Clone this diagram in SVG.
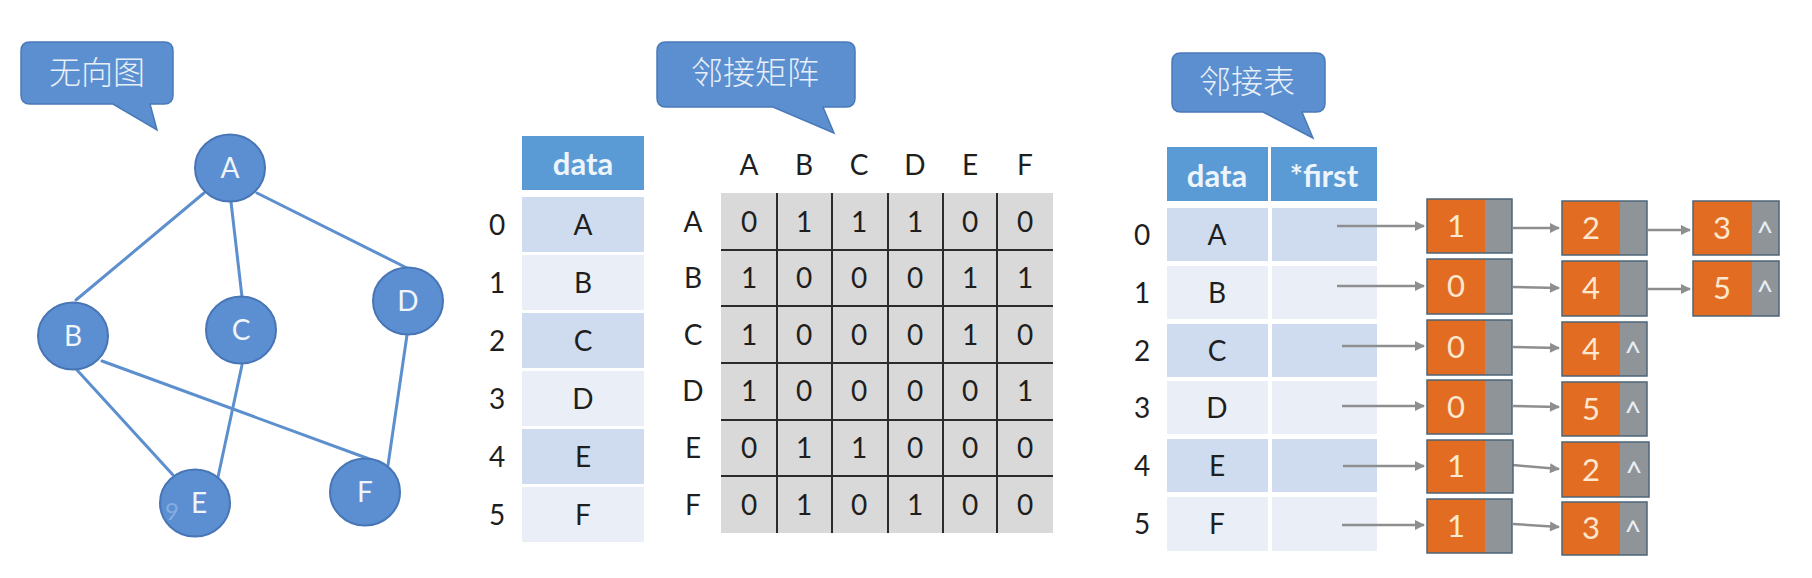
<svg xmlns="http://www.w3.org/2000/svg" width="1812" height="578" viewBox="0 0 1812 578">
<defs>
<style>
.cjk{font-family:"Noto Sans CJK SC","Noto Sans",sans-serif;font-size:32px;fill:#e8eff9;text-anchor:middle;font-weight:300;}
.bub{fill:#5b8fd0;stroke:#4a79b8;stroke-width:1.5;}
.vx{fill:#5b8fd1;stroke:#4775b6;stroke-width:2;}
.vt{font-family:Lato,"Open Sans","Liberation Sans",sans-serif;font-size:28px;fill:#f0f5fb;text-anchor:middle;}
.edge{stroke:#5c8fce;stroke-width:3;fill:none;stroke-linecap:round;}
.hd{fill:#5b9bd5;}
.hdt{font-family:Lato,"Open Sans","Liberation Sans",sans-serif;font-size:31px;font-weight:bold;fill:#eef4fb;text-anchor:middle;}
.rd{fill:#cfdcef;}
.rl{fill:#e9eef7;}
.t{font-family:Lato,"Open Sans","Liberation Sans",sans-serif;font-size:28px;fill:#1e1e1e;text-anchor:middle;}
.grid{stroke:#2b2b2b;stroke-width:2;}
.or{fill:#e26d22;}
.gy{fill:#8f9498;}
.nb{fill:none;stroke:#4d6478;stroke-width:1.5;}
.nt{font-family:Lato,"Open Sans","Liberation Sans",sans-serif;font-size:31px;fill:#fde8cf;text-anchor:middle;}
.nil{font-family:Lato,"Open Sans","Liberation Sans",sans-serif;font-size:30px;fill:#e8eef6;text-anchor:middle;}
.arr{stroke:#8e8e8e;stroke-width:2.5;fill:none;marker-end:url(#ah);}
</style>
<marker id="ah" viewBox="0 0 10 10" refX="9" refY="5" markerWidth="11" markerHeight="10" markerUnits="userSpaceOnUse" orient="auto">
<path d="M0,0 L10,5 L0,10 Z" fill="#8e8e8e"/>
</marker>
</defs>
<rect width="1812" height="578" fill="#ffffff"/>

<g id="callout-graph">
<path class="bub" d="M30,42 H164 Q173,42 173,51 V95 Q173,104 164,104 H150 L157,130 L113,104 H30 Q21,104 21,95 V51 Q21,42 30,42 Z"/>
<text class="cjk" x="97" y="84">无向图</text>
</g>
<g id="callout-matrix">
<path class="bub" d="M666,42 H846 Q855,42 855,51 V98 Q855,107 846,107 H823 L834,133 L773,107 H666 Q657,107 657,98 V51 Q657,42 666,42 Z"/>
<text class="cjk" x="755" y="84">邻接矩阵</text>
</g>
<g id="callout-list">
<path class="bub" d="M1181,53 H1316 Q1325,53 1325,62 V103 Q1325,112 1316,112 H1302 L1313,138 L1263,112 H1181 Q1172,112 1172,103 V62 Q1172,53 1181,53 Z"/>
<text class="cjk" x="1247" y="93">邻接表</text>
</g>

<g id="edges">
<line class="edge" x1="204" y1="193" x2="76" y2="300"/>
<line class="edge" x1="231" y1="202" x2="242" y2="297"/>
<line class="edge" x1="257" y1="193" x2="407" y2="268"/>
<line class="edge" x1="77" y1="370" x2="173" y2="475"/>
<line class="edge" x1="102" y1="361" x2="372" y2="460"/>
<line class="edge" x1="242" y1="365" x2="218" y2="477"/>
<line class="edge" x1="407" y1="335" x2="388" y2="465"/>
</g>

<g id="vA"><ellipse class="vx" cx="230" cy="168" rx="35" ry="33.5"/><text class="vt" x="230" y="178">A</text></g>
<g id="vB"><ellipse class="vx" cx="73" cy="336" rx="35" ry="33.5"/><text class="vt" x="73" y="346">B</text></g>
<g id="vC"><ellipse class="vx" cx="241" cy="330" rx="35" ry="33.5"/><text class="vt" x="241" y="340">C</text></g>
<g id="vD"><ellipse class="vx" cx="408" cy="301" rx="35" ry="33.5"/><text class="vt" x="408" y="311">D</text></g>
<g id="vE"><ellipse class="vx" cx="195" cy="503" rx="35" ry="33.5"/><text class="vt" x="199" y="513">E</text><text x="172" y="520" font-family="Lato,'Open Sans',sans-serif" font-size="24" fill="#86ace0" text-anchor="middle">9</text></g>
<g id="vF"><ellipse class="vx" cx="365" cy="492" rx="35" ry="33.5"/><text class="vt" x="365" y="502">F</text></g>

<g id="vertex-array">
<rect class="hd" x="522" y="136" width="122" height="54"/>
<text class="hdt" x="583" y="175">data</text>
<rect class="rd" x="522" y="197" width="122" height="55"/>
<rect class="rl" x="522" y="255" width="122" height="55"/>
<rect class="rd" x="522" y="313" width="122" height="55"/>
<rect class="rl" x="522" y="371" width="122" height="55"/>
<rect class="rd" x="522" y="429" width="122" height="55"/>
<rect class="rl" x="522" y="487" width="122" height="55"/>
<text class="t" x="583" y="235">A</text>
<text class="t" x="583" y="293">B</text>
<text class="t" x="583" y="351">C</text>
<text class="t" x="583" y="409">D</text>
<text class="t" x="583" y="467">E</text>
<text class="t" x="583" y="525">F</text>
<text class="t" x="497" y="235">0</text>
<text class="t" x="497" y="293">1</text>
<text class="t" x="497" y="351">2</text>
<text class="t" x="497" y="409">3</text>
<text class="t" x="497" y="467">4</text>
<text class="t" x="497" y="525">5</text>
</g>

<g id="matrix">
<rect x="721" y="193" width="332" height="340" fill="#d9d9d9"/>
<g class="grid">
<line x1="777" y1="193" x2="777" y2="533"/>
<line x1="832" y1="193" x2="832" y2="533"/>
<line x1="888" y1="193" x2="888" y2="533"/>
<line x1="943" y1="193" x2="943" y2="533"/>
<line x1="997" y1="193" x2="997" y2="533"/>
<line x1="721" y1="250" x2="1053" y2="250"/>
<line x1="721" y1="306" x2="1053" y2="306"/>
<line x1="721" y1="363" x2="1053" y2="363"/>
<line x1="721" y1="420" x2="1053" y2="420"/>
<line x1="721" y1="476" x2="1053" y2="476"/>
</g>
<text class="t" x="749" y="175">A</text>
<text class="t" x="804" y="175">B</text>
<text class="t" x="859" y="175">C</text>
<text class="t" x="915" y="175">D</text>
<text class="t" x="970" y="175">E</text>
<text class="t" x="1025" y="175">F</text>
<text class="t" x="693" y="232">A</text>
<text class="t" x="693" y="288">B</text>
<text class="t" x="693" y="345">C</text>
<text class="t" x="693" y="401">D</text>
<text class="t" x="693" y="458">E</text>
<text class="t" x="693" y="515">F</text>
<g class="t">
<text x="749" y="232">0</text><text x="804" y="232">1</text><text x="859" y="232">1</text><text x="915" y="232">1</text><text x="970" y="232">0</text><text x="1025" y="232">0</text>
<text x="749" y="288">1</text><text x="804" y="288">0</text><text x="859" y="288">0</text><text x="915" y="288">0</text><text x="970" y="288">1</text><text x="1025" y="288">1</text>
<text x="749" y="345">1</text><text x="804" y="345">0</text><text x="859" y="345">0</text><text x="915" y="345">0</text><text x="970" y="345">1</text><text x="1025" y="345">0</text>
<text x="749" y="401">1</text><text x="804" y="401">0</text><text x="859" y="401">0</text><text x="915" y="401">0</text><text x="970" y="401">0</text><text x="1025" y="401">1</text>
<text x="749" y="458">0</text><text x="804" y="458">1</text><text x="859" y="458">1</text><text x="915" y="458">0</text><text x="970" y="458">0</text><text x="1025" y="458">0</text>
<text x="749" y="515">0</text><text x="804" y="515">1</text><text x="859" y="515">0</text><text x="915" y="515">1</text><text x="970" y="515">0</text><text x="1025" y="515">0</text>
</g>
</g>

<g id="list-table">
<rect class="hd" x="1167" y="147" width="101" height="54"/>
<rect class="hd" x="1271" y="147" width="106" height="54"/>
<text class="hdt" x="1217" y="187">data</text>
<text class="hdt" x="1324" y="187">*first</text>
<rect class="rd" x="1167" y="208" width="101" height="53"/><rect class="rd" x="1272" y="208" width="105" height="53"/>
<rect class="rl" x="1167" y="266" width="101" height="53"/><rect class="rl" x="1272" y="266" width="105" height="53"/>
<rect class="rd" x="1167" y="324" width="101" height="53"/><rect class="rd" x="1272" y="324" width="105" height="53"/>
<rect class="rl" x="1167" y="381" width="101" height="53"/><rect class="rl" x="1272" y="381" width="105" height="53"/>
<rect class="rd" x="1167" y="439" width="101" height="53"/><rect class="rd" x="1272" y="439" width="105" height="53"/>
<rect class="rl" x="1167" y="497" width="101" height="54"/><rect class="rl" x="1272" y="497" width="105" height="54"/>
<text class="t" x="1217" y="245">A</text>
<text class="t" x="1217" y="303">B</text>
<text class="t" x="1217" y="361">C</text>
<text class="t" x="1217" y="418">D</text>
<text class="t" x="1217" y="476">E</text>
<text class="t" x="1217" y="534">F</text>
<text class="t" x="1142" y="245">0</text>
<text class="t" x="1142" y="303">1</text>
<text class="t" x="1142" y="361">2</text>
<text class="t" x="1142" y="418">3</text>
<text class="t" x="1142" y="476">4</text>
<text class="t" x="1142" y="534">5</text>
</g>

<g id="connectors">
<line class="arr" x1="1337" y1="226" x2="1424" y2="226"/>
<line class="arr" x1="1337" y1="286" x2="1424" y2="286"/>
<line class="arr" x1="1342" y1="346" x2="1424" y2="346"/>
<line class="arr" x1="1342" y1="406" x2="1424" y2="406"/>
<line class="arr" x1="1343" y1="466" x2="1424" y2="466"/>
<line class="arr" x1="1342" y1="525" x2="1424" y2="525"/>
<line class="arr" x1="1513" y1="228" x2="1559" y2="228"/>
<line class="arr" x1="1513" y1="287" x2="1559" y2="288"/>
<line class="arr" x1="1513" y1="347" x2="1559" y2="348"/>
<line class="arr" x1="1513" y1="406" x2="1559" y2="407"/>
<line class="arr" x1="1513" y1="465" x2="1559" y2="469"/>
<line class="arr" x1="1513" y1="524" x2="1559" y2="527"/>
<line class="arr" x1="1648" y1="230" x2="1690" y2="230"/>
<line class="arr" x1="1648" y1="289" x2="1690" y2="289"/>
</g>

<g id="n0-1"><rect class="or" x="1427" y="199" width="58" height="54"/><rect class="gy" x="1485" y="199" width="27" height="54"/><rect class="nb" x="1427" y="199" width="85" height="54"/><text class="nt" x="1456" y="237">1</text></g>
<g id="n0-2"><rect class="or" x="1562" y="201" width="58" height="54"/><rect class="gy" x="1620" y="201" width="27" height="54"/><rect class="nb" x="1562" y="201" width="85" height="54"/><text class="nt" x="1591" y="239">2</text></g>
<g id="n0-3"><rect class="or" x="1693" y="201" width="59" height="54"/><rect class="gy" x="1752" y="201" width="27" height="54"/><rect class="nb" x="1693" y="201" width="86" height="54"/><text class="nt" x="1722" y="239">3</text><text class="nil" x="1765" y="244">^</text></g>

<g id="n1-1"><rect class="or" x="1427" y="259" width="58" height="55"/><rect class="gy" x="1485" y="259" width="27" height="55"/><rect class="nb" x="1427" y="259" width="85" height="55"/><text class="nt" x="1456" y="297">0</text></g>
<g id="n1-2"><rect class="or" x="1562" y="261" width="58" height="55"/><rect class="gy" x="1620" y="261" width="27" height="55"/><rect class="nb" x="1562" y="261" width="85" height="55"/><text class="nt" x="1591" y="299">4</text></g>
<g id="n1-3"><rect class="or" x="1693" y="261" width="59" height="55"/><rect class="gy" x="1752" y="261" width="27" height="55"/><rect class="nb" x="1693" y="261" width="86" height="55"/><text class="nt" x="1722" y="299">5</text><text class="nil" x="1765" y="303">^</text></g>

<g id="n2-1"><rect class="or" x="1427" y="320" width="58" height="55"/><rect class="gy" x="1485" y="320" width="27" height="55"/><rect class="nb" x="1427" y="320" width="85" height="55"/><text class="nt" x="1456" y="358">0</text></g>
<g id="n2-2"><rect class="or" x="1562" y="322" width="58" height="54"/><rect class="gy" x="1620" y="322" width="27" height="54"/><rect class="nb" x="1562" y="322" width="85" height="54"/><text class="nt" x="1591" y="360">4</text><text class="nil" x="1633" y="364">^</text></g>

<g id="n3-1"><rect class="or" x="1427" y="380" width="58" height="54"/><rect class="gy" x="1485" y="380" width="27" height="54"/><rect class="nb" x="1427" y="380" width="85" height="54"/><text class="nt" x="1456" y="418">0</text></g>
<g id="n3-2"><rect class="or" x="1562" y="382" width="58" height="54"/><rect class="gy" x="1620" y="382" width="27" height="54"/><rect class="nb" x="1562" y="382" width="85" height="54"/><text class="nt" x="1591" y="420">5</text><text class="nil" x="1633" y="424">^</text></g>

<g id="n4-1"><rect class="or" x="1427" y="440" width="58" height="53"/><rect class="gy" x="1485" y="440" width="28" height="53"/><rect class="nb" x="1427" y="440" width="86" height="53"/><text class="nt" x="1456" y="477">1</text></g>
<g id="n4-2"><rect class="or" x="1562" y="442" width="58" height="55"/><rect class="gy" x="1620" y="442" width="29" height="55"/><rect class="nb" x="1562" y="442" width="87" height="55"/><text class="nt" x="1591" y="481">2</text><text class="nil" x="1634" y="484">^</text></g>

<g id="n5-1"><rect class="or" x="1427" y="499" width="58" height="54"/><rect class="gy" x="1485" y="499" width="27" height="54"/><rect class="nb" x="1427" y="499" width="85" height="54"/><text class="nt" x="1456" y="537">1</text></g>
<g id="n5-2"><rect class="or" x="1562" y="502" width="58" height="53"/><rect class="gy" x="1620" y="502" width="27" height="53"/><rect class="nb" x="1562" y="502" width="85" height="53"/><text class="nt" x="1591" y="539">3</text><text class="nil" x="1633" y="543">^</text></g>
</svg>
